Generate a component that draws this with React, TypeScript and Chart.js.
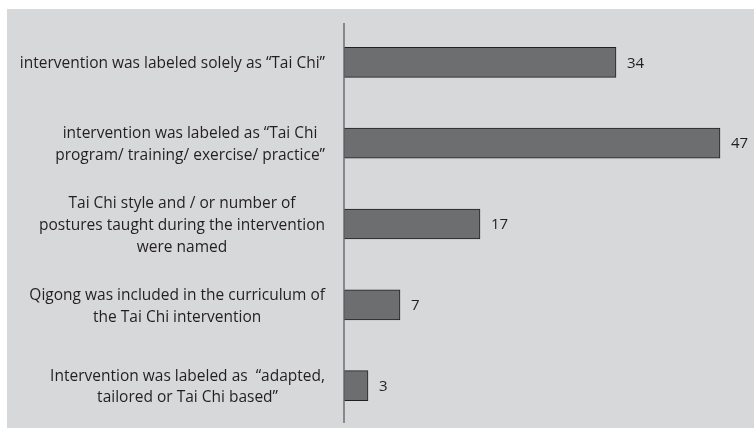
import React, { useEffect, useRef } from "react";
import { Chart, registerables } from "chart.js";

Chart.register(...registerables);

const categoryLines: string[][] = [
  ["intervention was labeled solely as “Tai Chi”"],
  ["intervention was labeled as “Tai Chi", "program/ training/ exercise/ practice”"],
  ["Tai Chi style and / or number of", "postures taught during the intervention", "were named"],
  ["Qigong was included in the curriculum of", "the Tai Chi intervention"],
  ["Intervention was labeled as  “adapted,", "tailored or Tai Chi based”"],
];
const categories = categoryLines.map((l) => l.join(" "));
const values = [34, 47, 17, 7, 3];

const FONT = "'Open Sans', 'Noto Sans', sans-serif";
const TEXT_COLOR = "#231f20";

const decorPlugin = {
  id: "decor",
  beforeDraw(chart: any) {
    const ctx = chart.ctx;
    ctx.save();
    ctx.fillStyle = "#d7d8da";
    ctx.fillRect(7, 9, 747, 419);
    ctx.restore();
  },
  afterDatasetsDraw(chart: any) {
    const ctx = chart.ctx;
    const xs = chart.scales.x;
    const ys = chart.scales.y;
    const area = chart.chartArea;
    ctx.save();
    // vertical axis line
    ctx.strokeStyle = "#6d6e71";
    ctx.lineWidth = 1.5;
    ctx.beginPath();
    ctx.moveTo(xs.getPixelForValue(0), area.top + 1);
    ctx.lineTo(xs.getPixelForValue(0), area.bottom - 3);
    ctx.stroke();

    // value labels
    ctx.fillStyle = TEXT_COLOR;
    ctx.font = `15px ${FONT}`;
    ctx.textAlign = "left";
    ctx.textBaseline = "middle";
    values.forEach((v, i) => {
      const x = xs.getPixelForValue(v) + 11;
      const y = ys.getPixelForValue(i) + 1;
      ctx.fillText(String(v), x, y);
    });

    // category labels: block right-aligned, lines centered within block
    ctx.font = `15.5px ${FONT}`;
    ctx.textAlign = "center";
    const lh = 21.7;
    const right = xs.getPixelForValue(0) - 19;
    categoryLines.forEach((lines, i) => {
      const w = Math.max(...lines.map((l) => ctx.measureText(l).width));
      const cx = right - w / 2;
      const yc = ys.getPixelForValue(i) + 1.5;
      lines.forEach((l, j) => {
        ctx.fillText(l, cx, yc + (j - (lines.length - 1) / 2) * lh);
      });
    });
    ctx.restore();
  },
};

export default function App() {
  const ref = useRef<HTMLCanvasElement | null>(null);
  useEffect(() => {
    if (!ref.current) return;
    const chart = new Chart(ref.current, {
      type: "bar",
      data: {
        labels: categories,
        datasets: [
          {
            data: values,
            backgroundColor: "#6d6e70",
            borderColor: "#231f20",
            borderWidth: 1,
            borderSkipped: false,
            barThickness: 30,
          },
        ],
      },
      options: {
        indexAxis: "y",
        animation: false,
        responsive: false,
        maintainAspectRatio: false,
        layout: { padding: { left: 344, right: 11, top: 22, bottom: 3 } },
        plugins: {
          legend: { display: false },
          tooltip: { enabled: false },
        },
        scales: {
          x: { display: false, min: 0, max: 50 },
          y: { display: false },
        },
      },
      plugins: [decorPlugin],
    });
    return () => chart.destroy();
  }, []);
  return (
    <div style={{ position: "fixed", left: 0, top: 0, width: 755, height: 429, background: "#ffffff" }}>
      <canvas ref={ref} width={755} height={429} style={{ width: 755, height: 429, display: "block" }} />
    </div>
  );
}
